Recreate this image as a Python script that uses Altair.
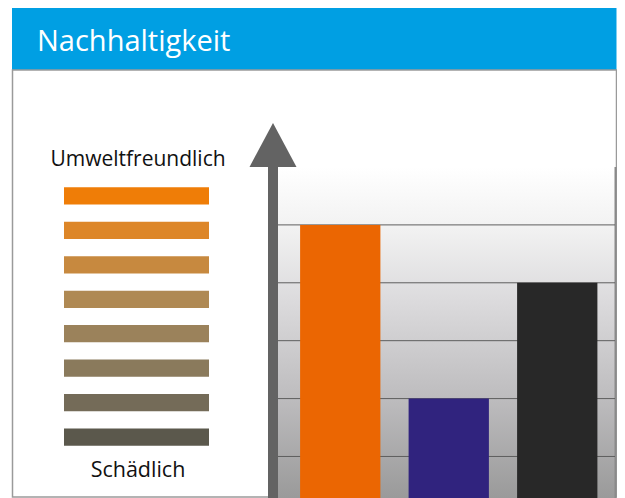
import altair as alt
import pandas as pd

# ---- data ----
categories = ["A", "B", "C"]
values = [5, 2, 4]
bar_colors = ["#EB6602", "#30237E", "#282828"]
grid_values = [1, 2, 3, 4, 5]
scale_levels = [1, 2, 3, 4, 5, 6, 7, 8]
scale_colors = ["#EF7D07", "#DD8628", "#C7893F", "#AF8953",
                "#9B825B", "#8A7A5C", "#746B58", "#5B584C"]
title_text = "Nachhaltigkeit"
top_label = "Umweltfreundlich"
bottom_label = "Schädlich"

W, H = 609, 490
FONT = "Open Sans"

bars_df = pd.DataFrame({"cat": categories, "value": values})
grid_df = pd.DataFrame({"v": grid_values})
levels_df = pd.DataFrame({"level": scale_levels})
one = pd.DataFrame({"a": [0]})

yscale = alt.Scale(domain=[0.3, 6.0], range=[489, 159], nice=False, zero=False)

header = alt.Chart(one).mark_rect(color="#009FE3").encode(
    x=alt.value(4), x2=alt.value(608.5), y=alt.value(-4), y2=alt.value(62))

border = alt.Chart(one).mark_rect(fill=None, stroke="#9A9A9A", strokeWidth=1.5).encode(
    x=alt.value(4.5), x2=alt.value(608.5), y=alt.value(62), y2=alt.value(489))

title = alt.Chart(one).mark_text(
    text=title_text, color="white", font=FONT, fontSize=29, align="left", baseline="middle"
).encode(x=alt.value(29), y=alt.value(34))

bg = alt.Chart(one).mark_rect(
    fill=alt.Gradient(
        gradient="linear", x1=0, x2=0, y1=0, y2=1,
        stops=[alt.GradientStop(color="#FFFFFF", offset=0),
               alt.GradientStop(color="#F2F2F2", offset=0.18),
               alt.GradientStop(color="#DCDBDD", offset=0.4),
               alt.GradientStop(color="#BDBCBE", offset=0.7),
               alt.GradientStop(color="#9A9A9A", offset=1)])
).encode(x=alt.value(270), x2=alt.value(608), y=alt.value(159), y2=alt.value(490))

right_edge = alt.Chart(one).mark_rule(color="#8A8A8A", strokeWidth=2).encode(
    x=alt.value(607.5), y=alt.value(159), y2=alt.value(490))

grid = alt.Chart(grid_df).mark_rule(color="#5E5E5E", strokeWidth=1).encode(
    y=alt.Y("v:Q", scale=yscale, axis=None),
    x=alt.value(270), x2=alt.value(607))

bars = alt.Chart(bars_df).mark_bar(clip=True).encode(
    x=alt.X("cat:N", sort=categories, axis=None,
            scale=alt.Scale(range=[278, 603.5], paddingInner=0.26, paddingOuter=0.13)),
    y=alt.Y("value:Q", scale=yscale, axis=None),
    y2=alt.value(490),
    color=alt.Color("cat:N", scale=alt.Scale(domain=categories, range=bar_colors), legend=None))

shaft = alt.Chart(one).mark_rect(color="#636363").encode(
    x=alt.value(260), x2=alt.value(270), y=alt.value(158), y2=alt.value(490))

head = alt.Chart(one).mark_point(
    shape="M-1,1L0,-0.87L1,1Z", filled=True, color="#636363", opacity=1, size=47 * 47
).encode(x=alt.value(265), y=alt.value(135.5))

swatches = alt.Chart(levels_df).mark_rect().encode(
    y=alt.Y("level:O", axis=None,
            scale=alt.Scale(range=[170.75, 446.25], paddingInner=0.5, paddingOuter=0.25)),
    x=alt.value(56), x2=alt.value(201),
    color=alt.Color("level:O", scale=alt.Scale(domain=scale_levels, range=scale_colors), legend=None))

top_txt = alt.Chart(one).mark_text(
    text=top_label, font=FONT, fontSize=21, color="#111111", align="center", baseline="middle"
).encode(x=alt.value(130), y=alt.value(152))

bot_txt = alt.Chart(one).mark_text(
    text=bottom_label, font=FONT, fontSize=21.5, color="#111111", align="center", baseline="middle"
).encode(x=alt.value(130), y=alt.value(463))

chart = alt.layer(
    header, border, title, bg, right_edge, grid, bars, shaft, head, swatches, top_txt, bot_txt
).resolve_scale(x="independent", y="independent", color="independent").properties(
    width=W, height=H, padding=0, autosize=alt.AutoSizeParams(type="none")
).configure_view(stroke=None)

chart.save("out.html", embed_options={"renderer": "svg", "actions": False})
